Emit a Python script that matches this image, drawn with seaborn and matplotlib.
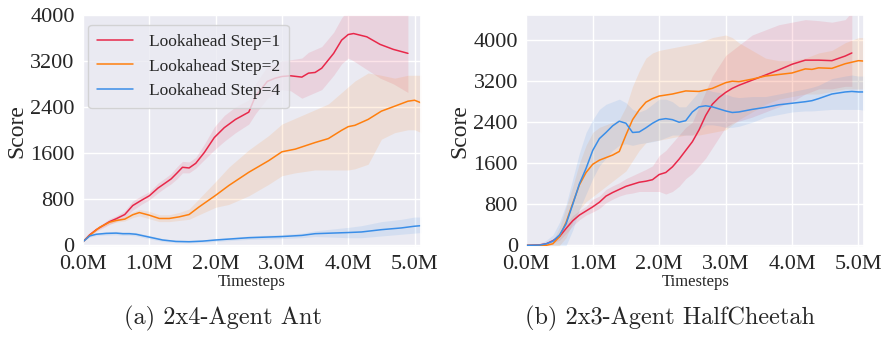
import numpy as np
import pandas as pd
import seaborn as sns
import matplotlib.pyplot as plt
from matplotlib.ticker import FuncFormatter

labels = ["Lookahead Step=1", "Lookahead Step=2", "Lookahead Step=4"]
colors = ["#E8284A", "#FF7F0E", "#3A8EE8"]

# 2x4-Agent Ant (steps in millions)
ant_s1_x = [0, .1, .2, .3, .4, .5, .63, .75, .88, 1.0, 1.13, 1.25, 1.33, 1.42, 1.5, 1.6, 1.7, 1.83, 1.98, 2.13,
            2.3, 2.5, 2.6, 2.78, 2.9, 3.0, 3.13, 3.3, 3.4, 3.5, 3.6, 3.78, 3.9, 4.0, 4.08, 4.28, 4.48, 4.68, 4.9]
ant_s1 = [50, 170, 260, 330, 400, 450, 524, 680, 771, 850, 984, 1080, 1145, 1250, 1347, 1335, 1416, 1605, 1865, 2037,
          2181, 2308, 2584, 2843, 2900, 2929, 2941, 2918, 2987, 2999, 3073, 3332, 3562, 3660, 3677, 3620, 3488, 3401, 3332]
ant_s1_lo = [50, 150, 230, 290, 350, 400, 460, 600, 700, 780, 900, 1000, 1060, 1150, 1250, 1250, 1330, 1480, 1650, 1800,
             1950, 2100, 2280, 2550, 2650, 2700, 2680, 2550, 2600, 2650, 2700, 2950, 3150, 3250, 3200, 3050, 2900, 2800, 2650]
ant_s1_hi = [50, 190, 290, 370, 450, 500, 590, 760, 850, 920, 1070, 1170, 1240, 1360, 1450, 1440, 1520, 1750, 2050, 2250,
             2400, 2520, 2800, 3100, 3150, 3200, 3220, 3250, 3350, 3400, 3450, 3700, 3950, 4100, 4150, 4150, 4050, 4000, 4050]

ant_s2_x = [0, .1, .25, .4, .5, .63, .75, .85, 1.0, 1.15, 1.3, 1.45, 1.6, 1.75, 2.0, 2.2, 2.5, 2.8, 3.0, 3.2,
            3.5, 3.7, 3.9, 4.0, 4.1, 4.3, 4.5, 4.7, 4.9, 5.0, 5.1]
ant_s2 = [50, 160, 300, 390, 420, 443, 520, 558, 512, 455, 455, 483, 524, 656, 858, 1030, 1260, 1462, 1617, 1663,
          1778, 1847, 1991, 2055, 2078, 2181, 2325, 2411, 2498, 2515, 2469]
ant_s2_lo = [50, 150, 280, 360, 390, 410, 470, 500, 450, 400, 400, 420, 440, 520, 650, 700, 850, 1050, 1200, 1250,
             1300, 1300, 1300, 1300, 1320, 1400, 1836, 1950, 2000, 2000, 1950]
ant_s2_hi = [50, 170, 320, 420, 450, 480, 570, 610, 580, 520, 520, 560, 620, 800, 1100, 1350, 1650, 1900, 2100, 2200,
             2350, 2450, 2650, 2750, 2850, 2990, 2950, 2900, 2950, 2950, 2950]

ant_s4_x = [0, .1, .2, .35, .5, .6, .7, .8, 1.0, 1.2, 1.4, 1.6, 1.8, 2.0, 2.5, 3.0, 3.3, 3.5, 4.0, 4.2, 4.5, 4.8, 5.0, 5.1]
ant_s4 = [50, 150, 180, 195, 200, 190, 190, 180, 130, 80, 55, 50, 60, 80, 120, 140, 160, 190, 210, 220, 260, 290, 320, 330]
ant_s4_lo = [50, 130, 155, 165, 170, 160, 160, 150, 100, 55, 35, 30, 40, 55, 90, 105, 120, 140, 120, 120, 150, 180, 200, 210]
ant_s4_hi = [50, 170, 205, 225, 230, 220, 220, 210, 160, 105, 75, 70, 80, 105, 150, 175, 200, 240, 300, 330, 400, 440, 480, 480]

# 2x3-Agent HalfCheetah
hc_s1_x = [0, .2, .3, .4, .5, .6, .7, .8, .9, 1.0, 1.1, 1.2, 1.3, 1.4, 1.5, 1.6, 1.7, 1.8, 1.9, 2.0, 2.1, 2.2,
           2.3, 2.4, 2.5, 2.6, 2.7, 2.8, 2.9, 3.0, 3.1, 3.2, 3.4, 3.6, 3.8, 4.0, 4.2, 4.4, 4.6, 4.8, 4.9]
hc_s1 = [0, 10, 30, 90, 170, 330, 480, 590, 670, 750, 840, 960, 1030, 1090, 1150, 1190, 1230, 1250, 1280, 1380, 1420, 1530,
         1680, 1850, 2020, 2250, 2530, 2750, 2880, 2980, 3060, 3120, 3220, 3320, 3420, 3530, 3610, 3610, 3600, 3690, 3750]
hc_s1_lo = [0, 0, 10, 50, 100, 230, 380, 500, 590, 650, 720, 830, 900, 960, 1000, 1020, 1050, 1050, 1050, 1050, 1000, 1050,
            1150, 1300, 1400, 1550, 1700, 1900, 2100, 2300, 2380, 2420, 2500, 2600, 2700, 2800, 2950, 3050, 3050, 3100, 3100]
hc_s1_hi = [0, 20, 50, 130, 250, 430, 580, 680, 760, 900, 960, 1090, 1160, 1220, 1300, 1360, 1420, 1480, 1550, 1750, 1850, 2000,
            2150, 2300, 2400, 2700, 3000, 3300, 3500, 3700, 3800, 3900, 4100, 4200, 4300, 4350, 4400, 4380, 4350, 4400, 4550]

hc_s2_x = [0, .3, .4, .5, .6, .7, .8, .9, 1.0, 1.1, 1.2, 1.3, 1.4, 1.5, 1.6, 1.7, 1.8, 1.9, 2.0, 2.2, 2.4,
           2.6, 2.8, 3.0, 3.1, 3.2, 3.4, 3.6, 3.8, 4.0, 4.2, 4.3, 4.4, 4.6, 4.8, 5.0, 5.1]
hc_s2 = [0, 0, 30, 170, 450, 820, 1180, 1420, 1580, 1660, 1710, 1760, 1830, 2150, 2450, 2640, 2790, 2860, 2910, 2950, 3010,
         3000, 3060, 3170, 3200, 3190, 3240, 3300, 3330, 3360, 3440, 3430, 3460, 3450, 3540, 3600, 3590]
hc_s2_lo = [0, -20, -30, 0, 150, 450, 700, 850, 950, 1050, 1150, 1250, 1350, 1450, 1650, 1850, 2000, 2030, 2050, 2100, 2150,
            2150, 2200, 2250, 2350, 2450, 2600, 2750, 2850, 2900, 2950, 2950, 2950, 3000, 3050, 3050, 3050]
hc_s2_hi = [0, 20, 90, 350, 750, 1150, 1600, 1950, 2200, 2300, 2350, 2400, 2450, 2700, 3100, 3400, 3650, 3750, 3800, 3850, 3900,
            3950, 4050, 4100, 4050, 3950, 3800, 3650, 3600, 3600, 3650, 3700, 3750, 3800, 3950, 4050, 4050]

hc_s4_x = [0, .2, .3, .4, .5, .6, .7, .8, .9, 1.0, 1.1, 1.2, 1.3, 1.4, 1.5, 1.6, 1.7, 1.8, 1.9, 2.0, 2.1, 2.2,
           2.3, 2.4, 2.5, 2.6, 2.7, 2.8, 2.9, 3.0, 3.1, 3.2, 3.4, 3.6, 3.8, 4.0, 4.2, 4.3, 4.4, 4.6, 4.8, 4.9, 5.0, 5.1]
hc_s4 = [0, 5, 30, 80, 200, 420, 800, 1200, 1500, 1850, 2080, 2200, 2330, 2420, 2380, 2200, 2210, 2290, 2380, 2450, 2470, 2450,
         2400, 2430, 2600, 2700, 2720, 2700, 2660, 2620, 2590, 2600, 2650, 2690, 2740, 2770, 2800, 2820, 2860, 2950, 2990, 3000, 2990, 2990]
hc_s4_lo = [0, -30, -40, -40, 0, 0, 300, 700, 1000, 1300, 1550, 1700, 1850, 1950, 1980, 1950, 1980, 2000, 2020, 2050, 2100, 2150,
            2150, 2150, 2150, 2250, 2350, 2350, 2330, 2300, 2300, 2320, 2400, 2500, 2550, 2600, 2620, 2620, 2630, 2650, 2650, 2650, 2650, 2630]
hc_s4_hi = [0, 30, 100, 200, 450, 800, 1300, 1800, 2200, 2450, 2650, 2750, 2800, 2850, 2780, 2650, 2600, 2650, 2750, 2850, 2850, 2800,
            2700, 2700, 2850, 3000, 3050, 3000, 2980, 2950, 2900, 2880, 2900, 2900, 2950, 3000, 3050, 3080, 3120, 3250, 3300, 3320, 3300, 3300]

ant = [(ant_s1_x, ant_s1, ant_s1_lo, ant_s1_hi), (ant_s2_x, ant_s2, ant_s2_lo, ant_s2_hi), (ant_s4_x, ant_s4, ant_s4_lo, ant_s4_hi)]
hc = [(hc_s1_x, hc_s1, hc_s1_lo, hc_s1_hi), (hc_s2_x, hc_s2, hc_s2_lo, hc_s2_hi), (hc_s4_x, hc_s4, hc_s4_lo, hc_s4_hi)]

sns.set_theme(style="darkgrid")
plt.rcParams["font.family"] = ["Liberation Serif", "DejaVu Serif"]

fig = plt.figure(figsize=(8.83, 3.41), dpi=100)
ax1 = fig.add_axes([0.094, 0.276, 0.383, 0.680])
ax2 = fig.add_axes([0.596, 0.276, 0.383, 0.680])


def draw(ax, runs, legend):
	for (x, m, lo, hi), lab, c in zip(runs, labels, colors):
		x = np.array(x) * 1e6
		df = pd.DataFrame({"Timesteps": x, "Score": m})
		sns.lineplot(data=df, x="Timesteps", y="Score", ax=ax, color=c, lw=1.1, label=lab if legend else None)
		ax.fill_between(x, lo, hi, color=c, alpha=0.12, lw=0)
	ax.xaxis.set_major_formatter(FuncFormatter(lambda v, p: f"{v / 1e6:.1f}M"))
	ax.set_xticks(np.arange(0, 5.01e6, 1e6))
	ax.set_yticks([0, 800, 1600, 2400, 3200, 4000])
	ax.tick_params(axis="both", labelsize=16, pad=0)
	ax.set_xlabel("Timesteps", fontsize=12, labelpad=0)
	ax.set_ylabel("Score", fontsize=17, labelpad=2)


draw(ax1, ant, True)
ax1.set_xlim(0, 5.1e6)
ax1.set_ylim(-40, 4000)
ax1.legend(loc="upper left", fontsize=12.5, frameon=True, handlelength=2.1, borderpad=0.5, labelspacing=0.5,
           handletextpad=0.9, bbox_to_anchor=(-0.01, 0.995))

draw(ax2, hc, False)
ax2.set_xlim(0, 5.09e6)
ax2.set_ylim(-30, 4490)

fig.text(0.253, 0.065, "(a) 2x4-Agent Ant", ha="center", va="center", fontsize=17.5, family="cmr10")
fig.text(0.759, 0.065, "(b) 2x3-Agent HalfCheetah", ha="center", va="center", fontsize=17.5, family="cmr10")

fig.savefig("out.png", dpi=100)
